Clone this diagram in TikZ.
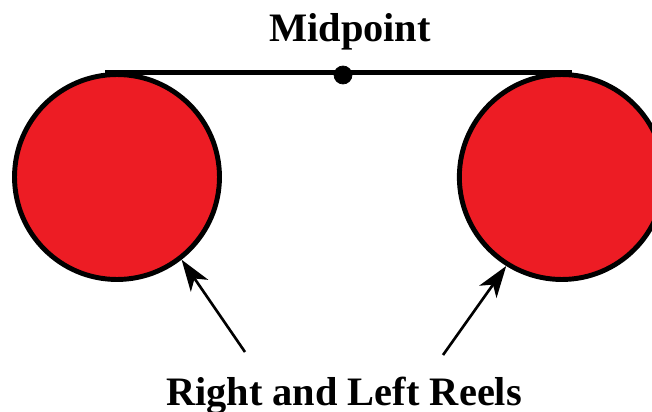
\documentclass[tikz,border=0pt]{standalone}
\usepackage{fontspec}
\setmainfont{Liberation Serif}
\usepackage{tikz}
\usetikzlibrary{arrows.meta,positioning}

\definecolor{reelred}{RGB}{237,28,36}

\begin{document}
\begin{tikzpicture}[x=0.02cm, y=-0.02cm,
    reel/.style={draw, circle, fill=reelred, line width=2.8pt, inner sep=0pt, minimum size=4.1cm},
    lbl/.style={font=\fontsize{23}{27}\selectfont\bfseries, inner sep=0pt},
    pointer/.style={-{Stealth[length=18pt, width=12pt, inset=5pt]}, line width=1.5pt}]
  \useasboundingbox (0,0) rectangle (652,412);
  \node[reel] (leftreel) at (117,177) {};
  \node[reel, right=4.7cm of leftreel] (rightreel) {};
  \draw[line width=2.8pt] ([xshift=-0.24cm]leftreel.north) -- ([xshift=0.2cm]rightreel.north);
  \node[draw, circle, fill=black, inner sep=0pt, minimum size=0.36cm] (mid) at (343,75) {};
  \node[lbl, anchor=base] (midlabel) at (350,42) {Midpoint};
  \node[lbl, anchor=base] (reellabel) at (344,405) {Right and Left Reels};
  \coordinate (lefttail) at (245,352);
  \coordinate (righttail) at (443,355);
  \draw[pointer] (lefttail) -- (leftreel.-52);
  \draw[pointer] (righttail) -- (rightreel.-122);
\end{tikzpicture}
\end{document}
